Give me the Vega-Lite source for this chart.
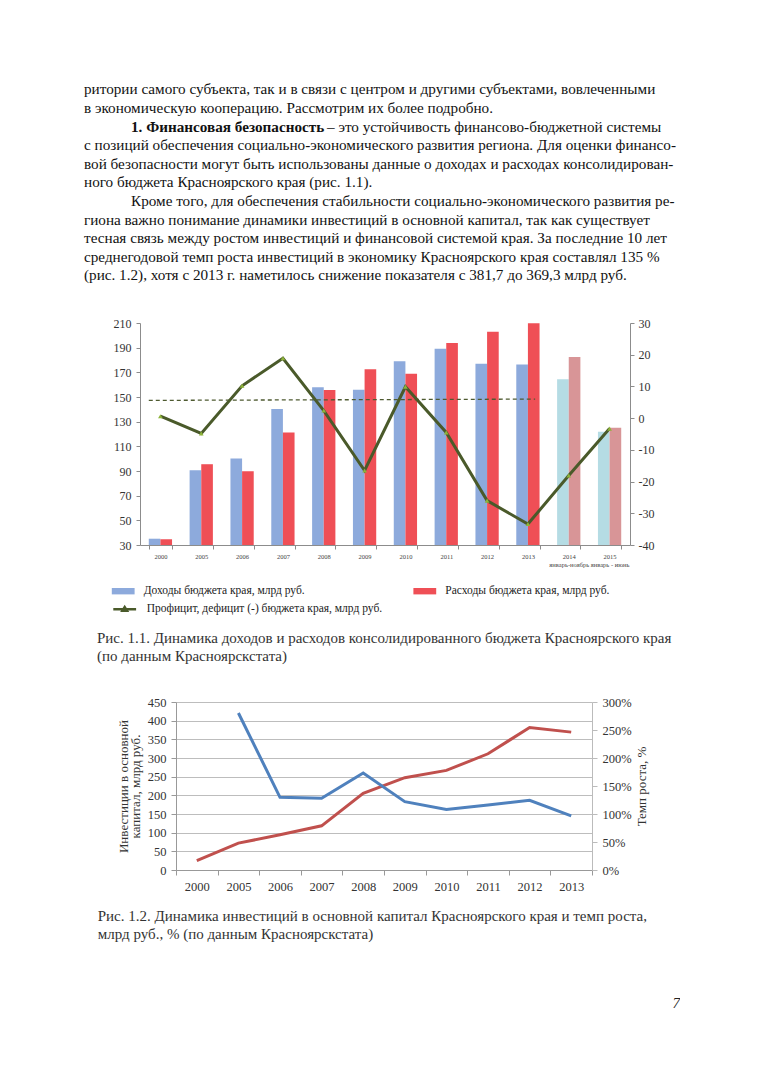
{
  "$schema": "https://vega.github.io/schema/vega-lite/v6.json",
  "padding": {"left": 84, "top": 80, "right": 0, "bottom": 0},
  "autosize": {"type": "pad"},
  "background": "white",
  "config": {
    "view": {"stroke": null},
    "font": "Liberation Serif, serif",
    "axis": {"labelFont": "Liberation Serif, serif", "titleFont": "Liberation Serif, serif", "labelColor": "#333", "titleColor": "#333", "domainColor": "#8c8c8c", "tickColor": "#8c8c8c", "grid": false, "titleFontWeight": "normal"},
    "legend": {"labelFont": "Liberation Serif, serif"},
    "title": {"font": "Liberation Serif, serif", "fontWeight": "normal"}
  },
  "title": {"text": "7", "orient": "bottom", "anchor": "end", "fontSize": 15, "fontStyle": "italic", "offset": 54, "color": "#222"},
  "datasets": {
    "text": [
      {"line": 0, "kind": "n", "indent": 0, "text": "ритории самого субъекта, так и в связи с центром и другими субъектами, вовлеченными"},
      {"line": 1, "kind": "n", "indent": 0, "text": "в экономическую кооперацию. Рассмотрим их более подробно."},
      {"line": 2, "kind": "b", "indent": 1, "text": "1. Финансовая безопасность"},
      {"line": 2, "kind": "r", "indent": 1, "text": "– это устойчивость финансово-бюджетной системы"},
      {"line": 3, "kind": "n", "indent": 0, "text": "с позиций обеспечения социально-экономического развития региона. Для оценки финансо-"},
      {"line": 4, "kind": "n", "indent": 0, "text": "вой безопасности могут быть использованы данные о доходах и расходах консолидирован-"},
      {"line": 5, "kind": "n", "indent": 0, "text": "ного бюджета Красноярского края (рис. 1.1)."},
      {"line": 6, "kind": "n", "indent": 1, "text": "Кроме того, для обеспечения стабильности социально-экономического развития ре-"},
      {"line": 7, "kind": "n", "indent": 0, "text": "гиона важно понимание динамики инвестиций в основной капитал, так как существует"},
      {"line": 8, "kind": "n", "indent": 0, "text": "тесная связь между ростом инвестиций и финансовой системой края. За последние 10 лет"},
      {"line": 9, "kind": "n", "indent": 0, "text": "среднегодовой темп роста инвестиций в экономику Красноярского края составлял 135 %"},
      {"line": 10, "kind": "n", "indent": 0, "text": "(рис. 1.2), хотя с 2013 г. наметилось снижение показателя с 381,7 до 369,3 млрд руб."}
    ],
    "bars": [
      {"year": "2000", "series": "Доходы", "kind": "Доходы бюджета края, млрд руб.", "value": 35.1},
      {"year": "2000", "series": "Расходы", "kind": "Расходы бюджета края, млрд руб.", "value": 34.6},
      {"year": "2005", "series": "Доходы", "kind": "Доходы бюджета края, млрд руб.", "value": 90.6},
      {"year": "2005", "series": "Расходы", "kind": "Расходы бюджета края, млрд руб.", "value": 95.5},
      {"year": "2006", "series": "Доходы", "kind": "Доходы бюджета края, млрд руб.", "value": 100.1},
      {"year": "2006", "series": "Расходы", "kind": "Расходы бюджета края, млрд руб.", "value": 89.8},
      {"year": "2007", "series": "Доходы", "kind": "Доходы бюджета края, млрд руб.", "value": 140.2},
      {"year": "2007", "series": "Расходы", "kind": "Расходы бюджета края, млрд руб.", "value": 121.2},
      {"year": "2008", "series": "Доходы", "kind": "Доходы бюджета края, млрд руб.", "value": 158.0},
      {"year": "2008", "series": "Расходы", "kind": "Расходы бюджета края, млрд руб.", "value": 155.6},
      {"year": "2009", "series": "Доходы", "kind": "Доходы бюджета края, млрд руб.", "value": 155.9},
      {"year": "2009", "series": "Расходы", "kind": "Расходы бюджета края, млрд руб.", "value": 172.4},
      {"year": "2010", "series": "Доходы", "kind": "Доходы бюджета края, млрд руб.", "value": 178.9},
      {"year": "2010", "series": "Расходы", "kind": "Расходы бюджета края, млрд руб.", "value": 168.9},
      {"year": "2011", "series": "Доходы", "kind": "Доходы бюджета края, млрд руб.", "value": 189.2},
      {"year": "2011", "series": "Расходы", "kind": "Расходы бюджета края, млрд руб.", "value": 193.8},
      {"year": "2012", "series": "Доходы", "kind": "Доходы бюджета края, млрд руб.", "value": 177.0},
      {"year": "2012", "series": "Расходы", "kind": "Расходы бюджета края, млрд руб.", "value": 203.0},
      {"year": "2013", "series": "Доходы", "kind": "Доходы бюджета края, млрд руб.", "value": 176.4},
      {"year": "2013", "series": "Расходы", "kind": "Расходы бюджета края, млрд руб.", "value": 209.7},
      {"year": "2014|январь-ноябрь", "series": "Доходы", "kind": "Доходы (неполный год)", "value": 164.3},
      {"year": "2014|январь-ноябрь", "series": "Расходы", "kind": "Расходы (неполный год)", "value": 182.4},
      {"year": "2015|январь - июнь", "series": "Доходы", "kind": "Доходы (неполный год)", "value": 121.8},
      {"year": "2015|январь - июнь", "series": "Расходы", "kind": "Расходы (неполный год)", "value": 125.0}
    ],
    "profit": [
      {"year": "2000", "value": 0.6},
      {"year": "2005", "value": -4.8},
      {"year": "2006", "value": 10.2},
      {"year": "2007", "value": 18.9},
      {"year": "2008", "value": 2.4},
      {"year": "2009", "value": -16.5},
      {"year": "2010", "value": 9.9},
      {"year": "2011", "value": -4.5},
      {"year": "2012", "value": -26.0},
      {"year": "2013", "value": -33.4},
      {"year": "2014|январь-ноябрь", "value": -18.1},
      {"year": "2015|январь - июнь", "value": -3.3}
    ],
    "trend": [
      {"year": "2000", "year2": "2013", "value": 5.6, "value2": 6.0}
    ],
    "inv": [
      {"year": "2000", "inv": 25.0, "rate": null},
      {"year": "2005", "inv": 72.0, "rate": 280.4},
      {"year": "2006", "inv": 94.3, "rate": 129.8},
      {"year": "2007", "inv": 118.3, "rate": 128.1},
      {"year": "2008", "inv": 205.4, "rate": 173.1},
      {"year": "2009", "inv": 247.2, "rate": 122.1},
      {"year": "2010", "inv": 266.8, "rate": 107.9},
      {"year": "2011", "inv": 311.3, "rate": 116.2},
      {"year": "2012", "inv": 381.7, "rate": 124.5},
      {"year": "2013", "inv": 369.3, "rate": 96.6}
    ]
  },
  "spacing": 32,
  "vconcat": [
    {
      "width": 596,
      "height": {"step": 18.6},
      "data": {"name": "text"},
      "encoding": {
        "y": {"field": "line", "type": "ordinal", "axis": null},
        "x": {"field": "indent", "type": "quantitative", "scale": {"domain": [0, 1], "range": [0, 47]}, "axis": null},
        "text": {"field": "text"}
      },
      "layer": [
        {"transform": [{"filter": "datum.kind == 'n'"}], "mark": {"type": "text", "align": "left", "baseline": "middle", "fontSize": 15.2, "color": "#111", "font": "Liberation Serif, serif"}},
        {"transform": [{"filter": "datum.kind == 'b'"}], "mark": {"type": "text", "align": "left", "baseline": "middle", "fontSize": 15.2, "color": "#111", "fontWeight": "bold", "font": "Liberation Serif, serif"}},
        {"transform": [{"filter": "datum.kind == 'r'"}], "mark": {"type": "text", "align": "left", "baseline": "middle", "fontSize": 15.2, "color": "#111", "dx": 196, "font": "Liberation Serif, serif"}}
      ]
    },
    {
      "spacing": 0,
      "hconcat": [
        {"width": 13, "height": 10, "data": {"values": []}, "mark": "point"},
        {
          "width": 490,
          "height": 222,
          "title": {
            "text": ["Рис. 1.1. Динамика доходов и расходов консолидированного бюджета Красноярского края", "(по данным Красноярскстата)"],
            "orient": "bottom", "anchor": "start", "frame": "bounds", "dx": -16, "offset": 63,
            "fontSize": 15, "lineHeight": 18, "color": "#333", "baseline": "top"
          },
          "layer": [
            {
              "data": {"name": "bars"},
              "mark": {"type": "bar"},
              "encoding": {
                "x": {
                  "field": "year", "type": "nominal", "sort": null, "title": null,
                  "scale": {"domain": ["2000", "2005", "2006", "2007", "2008", "2009", "2010", "2011", "2012", "2013", "2014|январь-ноябрь", "2015|январь - июнь"], "paddingInner": 0.43, "paddingOuter": 0.215},
                  "axis": {"labelExpr": "isString(datum.value) ? split(datum.value, '|') : ''", "labelFontSize": 6.5, "labelAngle": 0, "tickBand": "extent", "tickSize": 4, "labelPadding": 4, "labelOverlap": false, "labelLineHeight": 8, "labelColor": "#444"}
                },
                "xOffset": {"field": "series", "type": "nominal", "sort": ["Доходы", "Расходы"], "scale": {"paddingInner": 0, "paddingOuter": 0}},
                "y": {
                  "field": "value", "type": "quantitative",
                  "scale": {"domain": [30, 210], "zero": false, "nice": false},
                  "axis": {"values": [30, 50, 70, 90, 110, 130, 150, 170, 190, 210], "title": null, "tickSize": 4, "labelPadding": 5, "labelFontSize": 12}
                },
                "y2": {"datum": 30},
                "fill": {
                  "field": "kind", "type": "nominal",
                  "scale": {"domain": ["Доходы бюджета края, млрд руб.", "Расходы бюджета края, млрд руб.", "Доходы (неполный год)", "Расходы (неполный год)"], "range": ["#8DAADC", "#EF4F56", "#B5DCE4", "#D89597"]},
                  "legend": {
                    "orient": "none", "legendX": 27.7, "legendY": 499.7, "direction": "horizontal", "columns": 2, "columnPadding": 108.6,
                    "values": ["Доходы бюджета края, млрд руб.", "Расходы бюджета края, млрд руб."],
                    "title": null, "symbolType": "M-1,-0.28H1V0.28H-1Z", "symbolSize": 520, "symbolStrokeWidth": 0,
                    "labelFontSize": 11.5, "labelColor": "#222", "labelOffset": 9, "labelLimit": 400
                  }
                }
              }
            },
            {
              "data": {"name": "profit"},
              "encoding": {
                "x": {"field": "year", "type": "nominal", "sort": null, "title": null, "bandPosition": 0.5},
                "y": {
                  "field": "value", "type": "quantitative",
                  "scale": {"domain": [-40, 30], "zero": false, "nice": false},
                  "axis": {"orient": "right", "values": [-40, -30, -20, -10, 0, 10, 20, 30], "labelExpr": "'' + datum.value", "title": null, "tickSize": 4, "labelPadding": 4, "labelFontSize": 12}
                }
              },
              "layer": [
                {
                  "data": {"name": "trend"},
                  "mark": {"type": "rule", "color": "#4E5A30", "strokeWidth": 1.3, "strokeDash": [4, 3]},
                  "encoding": {
                    "x": {"field": "year", "type": "nominal", "sort": null, "title": null, "bandPosition": 0},
                    "x2": {"field": "year2", "bandPosition": 0.81},
                    "y2": {"field": "value2"}
                  }
                },
                {
                  "mark": {"type": "line", "strokeWidth": 3},
                  "encoding": {
                    "stroke": {
                      "datum": "Профицит, дефицит (-) бюджета края, млрд руб.",
                      "scale": {"range": ["#4A5A2A"]},
                      "legend": {
                        "orient": "none", "legendX": 27.7, "legendY": 516.3, "title": null,
                        "symbolType": "M-1,0H1M-0.2,0.12L0,-0.2L0.2,0.12Z", "symbolSize": 520, "symbolStrokeWidth": 2.5, "symbolFillColor": "#8DB33A",
                        "labelFontSize": 11.5, "labelColor": "#222", "labelOffset": 9, "labelLimit": 400
                      }
                    }
                  }
                },
                {
                  "mark": {"type": "point", "shape": "triangle-up", "filled": true, "color": "#8DB33A", "size": 22, "opacity": 1}
                }
              ]
            }
          ],
          "resolve": {"scale": {"y": "independent"}}
        }
      ]
    },
    {
      "spacing": 0,
      "hconcat": [
        {"width": 13, "height": 10, "data": {"values": []}, "mark": "point"},
        {
          "width": 416,
          "height": 168,
          "data": {"name": "inv"},
          "title": {
            "text": ["Рис. 1.2. Динамика инвестиций в основной капитал Красноярского края и темп роста,", "млрд руб., % (по данным Красноярскстата)"],
            "orient": "bottom", "anchor": "start", "frame": "bounds", "dx": -19.5, "offset": 16,
            "fontSize": 15, "lineHeight": 18, "color": "#333", "baseline": "top"
          },
          "encoding": {
            "x": {
              "field": "year", "type": "nominal", "sort": null, "title": null, "bandPosition": 0.5,
              "scale": {"type": "band", "paddingInner": 0, "paddingOuter": 0},
              "axis": {"labelAngle": 0, "tickBand": "extent", "tickSize": 5, "labelPadding": 5, "labelFontSize": 12.5, "domainColor": "#999", "tickColor": "#999"}
            }
          },
          "layer": [
            {
              "mark": {"type": "line", "color": "#C0504D", "strokeWidth": 3},
              "encoding": {
                "y": {
                  "field": "inv", "type": "quantitative", "scale": {"domain": [0, 450], "nice": false},
                  "axis": {"values": [0, 50, 100, 150, 200, 250, 300, 350, 400, 450], "grid": true, "gridColor": "#bdbdbd", "tickSize": 5, "labelPadding": 5, "labelFontSize": 12.5,
                    "title": ["Инвестиции в основной", "капитал, млрд руб."], "titleFontSize": 13, "titleLineHeight": 12, "titlePadding": 5, "domainColor": "#999", "tickColor": "#999"}
                }
              }
            },
            {
              "mark": {"type": "line", "color": "#4F81BD", "strokeWidth": 3},
              "encoding": {
                "y": {
                  "field": "rate", "type": "quantitative", "scale": {"domain": [0, 300], "nice": false},
                  "axis": {"orient": "right", "values": [0, 50, 100, 150, 200, 250, 300], "labelExpr": "datum.value + '%'", "tickSize": 5, "labelPadding": 5, "labelFontSize": 12.5,
                    "title": "Темп  роста, %", "titleAngle": 270, "titleBaseline": "top", "titleFontSize": 13, "titlePadding": 4, "domainColor": "#bbb", "tickColor": "#bbb"}
                }
              }
            }
          ],
          "resolve": {"scale": {"y": "independent"}}
        }
      ]
    }
  ]
}
